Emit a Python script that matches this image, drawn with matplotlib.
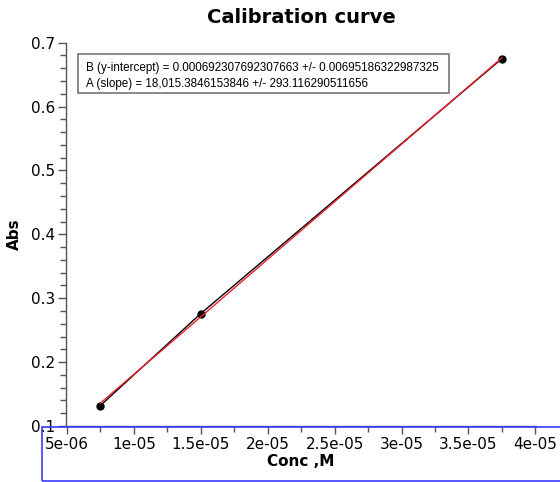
import matplotlib
matplotlib.use("Agg")
import matplotlib.pyplot as plt
import numpy as np
from matplotlib.ticker import MultipleLocator, FuncFormatter
from matplotlib.patches import Rectangle

# data
conc = [7.5e-06, 1.5e-05, 3.75e-05]
absorb = [0.132, 0.276, 0.675]
intercept = 0.000692307692307663
intercept_err = 0.00695186322987325
slope = 18015.3846153846
slope_err = 293.116290511656

fit_lines = ["B (y-intercept) = 0.000692307692307663 +/- 0.00695186322987325",
             "A (slope) = 18,015.3846153846 +/- 293.116290511656"]

W, H = 560, 482
fig = plt.figure(figsize=(W / 100, H / 100), dpi=100)
ax = fig.add_axes([66 / W, 1 - 426 / H, (536 - 66) / W, (426 - 42.7) / H])

x = np.array(conc)
fit_y = intercept + slope * x
ax.plot(conc, absorb, color='black', lw=1.0, marker='o', ms=5, zorder=3)
ax.plot(x[[0, -1]], fit_y[[0, -1]], color='#e8202a', lw=1.0, zorder=4)

ax.set_xlim(4.93e-06, 4.005e-05)
ax.set_ylim(0.1, 0.7)

for s in ['top', 'right']:
    ax.spines[s].set_visible(False)
for s in ['left', 'bottom']:
    ax.spines[s].set_color('#555555')
    ax.spines[s].set_linewidth(1.0)

ax.xaxis.set_major_locator(MultipleLocator(5e-06))
ax.xaxis.set_minor_locator(MultipleLocator(2.5e-06))
ax.yaxis.set_major_locator(MultipleLocator(0.1))
ax.yaxis.set_minor_locator(MultipleLocator(0.02))
ax.xaxis.set_major_formatter(FuncFormatter(lambda v, p: '%g' % v))
ax.yaxis.set_major_formatter(FuncFormatter(lambda v, p: '%g' % v))
ax.tick_params(which='major', length=6, width=1, color='#555555', labelsize=11, pad=2)
ax.tick_params(which='minor', length=4, width=1, color='#555555')

ax.set_title('Calibration curve', fontsize=14, fontweight='bold', pad=14)
ax.set_xlabel('Conc ,M', fontsize=11, fontweight='bold', labelpad=1)
ax.set_ylabel('Abs', fontsize=11, fontweight='bold', labelpad=6)

# fit result box
fig.add_artist(Rectangle((77.5 / W, 1 - 93.3 / H), (449 - 77.5) / W, (93.3 - 54) / H,
                         transform=fig.transFigure, fc='white', ec='#777777', lw=1.2))
for i, line in enumerate(fit_lines):
    fig.text(86 / W, 1 - (71.3 + 16 * i) / H, line, fontsize=8.35,
             family='Liberation Sans', va='baseline', ha='left')

# blue selection frame round the x axis area
fig.add_artist(Rectangle((42 / W, 1 - 481 / H), (W - 42) / W + 0.01, (481 - 427) / H,
                         transform=fig.transFigure, fill=False, ec='#3a3aff', lw=1.2))

fig.savefig('out.png', dpi=100)
